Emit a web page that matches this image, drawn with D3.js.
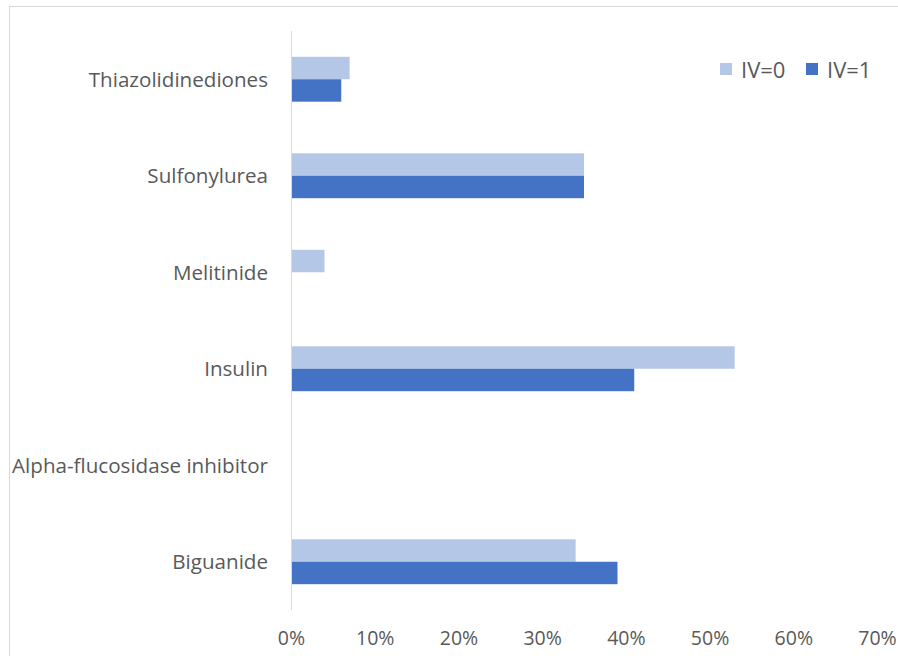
<!DOCTYPE html>
<html>
<head>
<meta charset="utf-8">
<script src="https://cdn.jsdelivr.net/npm/d3@7"></script>
<style>
  html, body { margin: 0; padding: 0; background: #fff; }
  svg { display: block; }
  text { font-family: "Open Sans", "Noto Sans", sans-serif; fill: #595959; }
</style>
</head>
<body>
<svg id="chart" width="898" height="656"></svg>
<script>
// Drug classes, listed bottom to top as they appear on the axis
const categories = ["Biguanide", "Alpha-flucosidase inhibitor", "Insulin", "Melitinide", "Sulfonylurea", "Thiazolidinediones"];
const seriesNames = ["IV=0", "IV=1"];
const iv0 = [34, 0, 53, 4, 35, 7];
const iv1 = [39, 0, 41, 0, 35, 6];
const xTicks = [0, 10, 20, 30, 40, 50, 60, 70];
const colors = ["#B4C7E7", "#4472C4"];

const svg = d3.select("#chart");

// chart area outline
svg.append("rect")
  .attr("x", 9.5).attr("y", 6.5)
  .attr("width", 900).attr("height", 700)
  .attr("fill", "none").attr("stroke", "#D9D9D9").attr("stroke-width", 1);

const plot = { left: 291, right: 877, top: 31, bottom: 610 };

const x = d3.scaleLinear().domain([0, 70]).range([plot.left, plot.right]);
const y = d3.scaleBand()
  .domain(categories.slice().reverse())
  .range([plot.top, plot.bottom])
  .paddingInner(0.535).paddingOuter(0.2675);
const ySub = d3.scaleBand().domain(seriesNames).range([0, y.bandwidth()]);

const rows = categories.map((c, i) => ({ cat: c, values: [iv0[i], iv1[i]] }));

// bars
const g = svg.append("g");
rows.forEach(r => {
  seriesNames.forEach((s, k) => {
    if (r.values[k] <= 0) return;
    g.append("rect")
      .attr("x", x(0))
      .attr("y", y(r.cat) + ySub(s))
      .attr("width", x(r.values[k]) - x(0))
      .attr("height", ySub.bandwidth())
      .attr("fill", colors[k]);
  });
});

// vertical category axis line
svg.append("line")
  .attr("x1", x(0) + 0.5).attr("x2", x(0) + 0.5)
  .attr("y1", plot.top).attr("y2", plot.bottom)
  .attr("stroke", "#D9D9D9").attr("stroke-width", 1);

// category labels
const yAxis = d3.axisLeft(y).tickSize(0).tickPadding(23);
const ya = svg.append("g").attr("transform", `translate(${x(0)},1)`).call(yAxis);
ya.select(".domain").remove();
ya.selectAll("text").style("font-size", "20.6px").attr("fill", "#595959");

// value axis labels
const xAxis = d3.axisBottom(x).tickValues(xTicks).tickFormat(d => d + "%").tickSize(0).tickPadding(21);
const xa = svg.append("g").attr("transform", `translate(0,${plot.bottom})`).call(xAxis);
xa.select(".domain").remove();
xa.selectAll("text").style("font-size", "19.5px").attr("fill", "#595959");
svg.selectAll("g").attr("font-family", null);

// legend
const legendX = [720, 806];
seriesNames.forEach((s, k) => {
  const lg = svg.append("g").attr("transform", `translate(${legendX[k]},63)`);
  lg.append("rect").attr("width", 12).attr("height", 12).attr("fill", colors[k]);
  lg.append("text").attr("x", 21).attr("y", 7).attr("dy", "0.35em")
    .style("font-size", "22px").text(s);
});
</script>
</body>
</html>
